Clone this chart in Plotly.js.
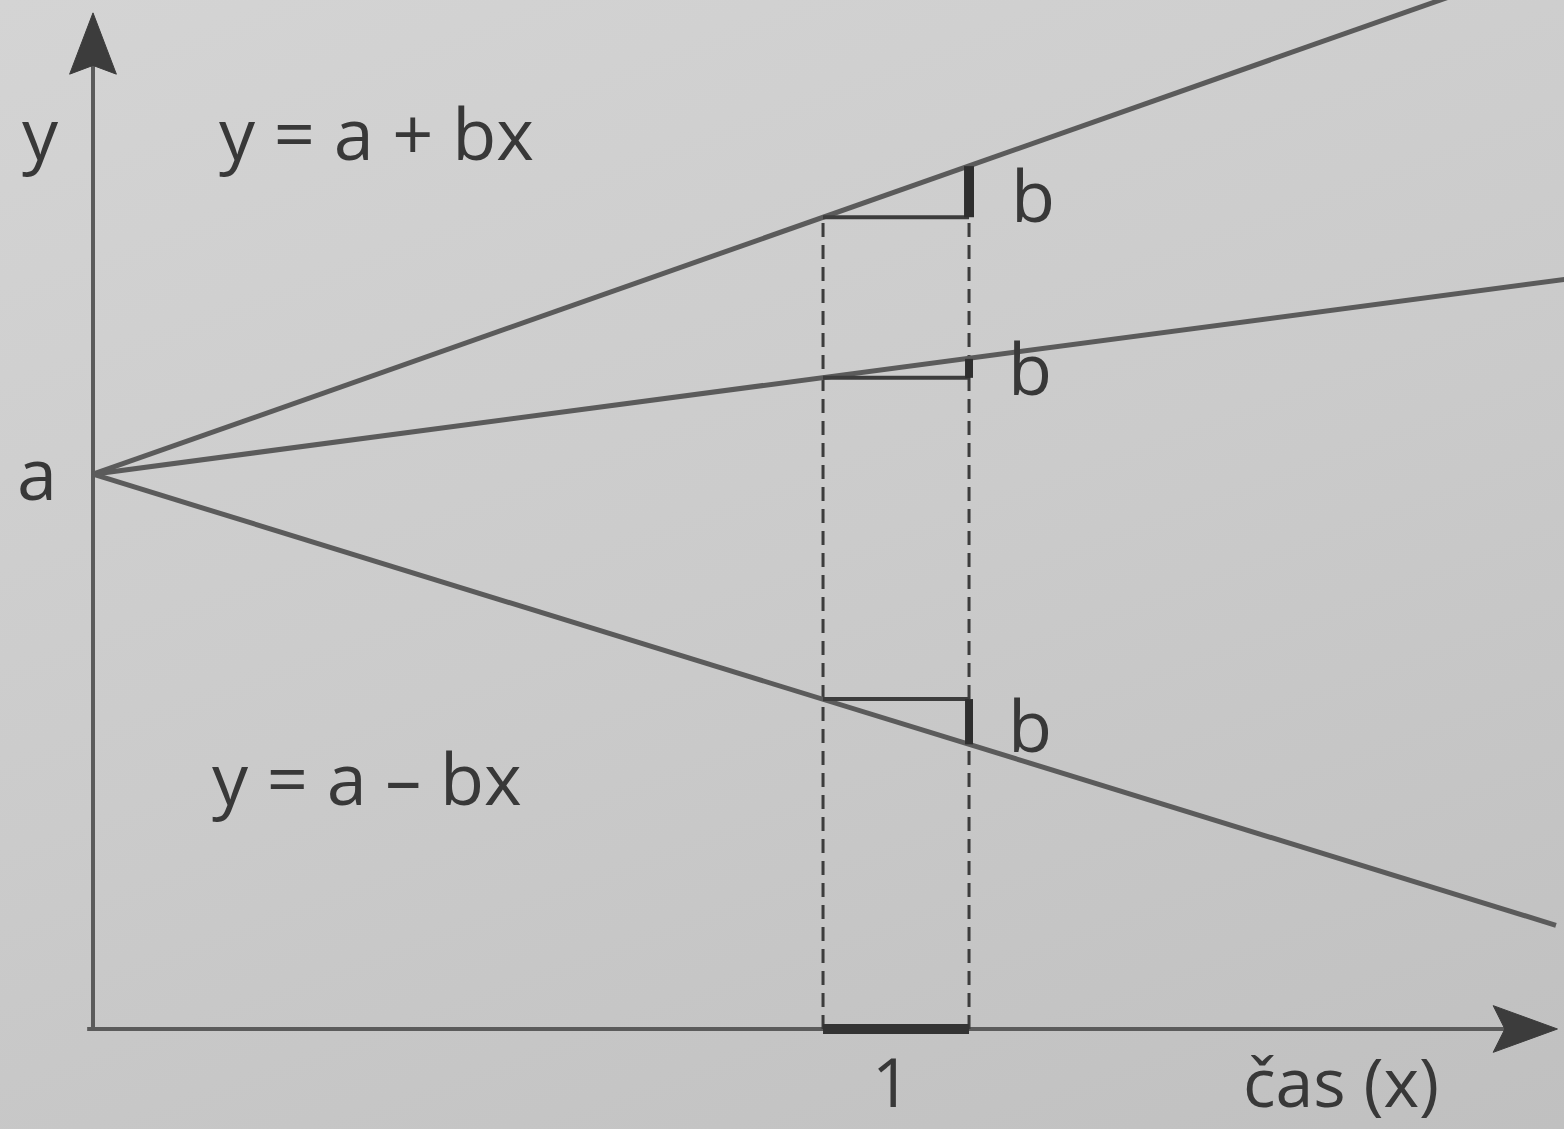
<!DOCTYPE html>
<html><head><meta charset="utf-8">
<script src="https://cdn.plot.ly/plotly-3.0.1.min.js"></script>
<style>
html,body{margin:0;padding:0;background:#c9c9c9;overflow:hidden}
#chart{width:1564px;height:1129px;background:linear-gradient(160deg,#d4d4d4 0%,#cbcbcb 50%,#c0c0c0 100%);}
</style>
</head><body><div id="chart"></div>
<script>
// ---- data (x unit = the marked "1" step) ----
const lineX   = [0, 10.2];
const upperY  = [3.80, 7.39];
const middleY = [3.80, 5.15];
const lowerX  = [0, 10.02];
const lowerY  = [3.80, 0.71];
const stepX       = [5, 6];
const upperStep   = [5.56, 5.91];
const middleStep  = [4.46, 4.59];
const lowerStep   = [2.26, 1.95];
const xAxisEnd = 10.03;
const yAxisEnd = 6.96;
// ---- labels ----
const yAxisLabel = 'y';
const xAxisLabel = 'čas (x)';
const interceptLabel = 'a';
const slopeLabel = 'b';
const unitLabel = '1';
const eqUp = 'y = a + bx';
const eqDown = 'y = a – bx';

const LINE = '#5b5b5b', DARK = '#3c3c3c', TXT = '#383838';
const traces = [];
function seg(x, y, w, c, dash) {
  traces.push({type:'scatter', mode:'lines', x:x, y:y, hoverinfo:'skip', showlegend:false,
    line:{color:c, width:w, dash:dash||'solid'}});
}
// axes
seg([0, 0], [0, yAxisEnd - 0.3], 4, LINE);
seg([-0.04, xAxisEnd - 0.3], [0, 0], 4, LINE);
// arrowheads
const hl = 0.42, hw = 0.16, nt = 0.06;
traces.push({type:'scatter', mode:'lines', fill:'toself', fillcolor:DARK, hoverinfo:'skip', showlegend:false,
  line:{color:DARK, width:1},
  x:[0, hw, 0, -hw, 0], y:[yAxisEnd, yAxisEnd-hl, yAxisEnd-hl+nt, yAxisEnd-hl, yAxisEnd]});
traces.push({type:'scatter', mode:'lines', fill:'toself', fillcolor:DARK, hoverinfo:'skip', showlegend:false,
  line:{color:DARK, width:1},
  x:[xAxisEnd, xAxisEnd-hl-0.02, xAxisEnd-hl+nt, xAxisEnd-hl-0.02, xAxisEnd], y:[0, hw, 0, -hw, 0]});
// dashed verticals
seg([stepX[0], stepX[0]], [0, upperStep[0]], 3, DARK, '14px,8px');
seg([stepX[1], stepX[1]], [0, upperStep[0]], 3, DARK, '14px,8px');
// main lines
seg(lineX, upperY, 5, LINE);
seg(lineX, middleY, 5, LINE);
seg(lowerX, lowerY, 5, LINE);
// step triangles
[upperStep, middleStep, lowerStep].forEach(function(s, i){
  seg(stepX, [s[0], s[0]], 4, DARK);
  seg([stepX[1], stepX[1]], [s[0], s[1]], i === 0 ? 10 : 8, '#2e2e2e');
});
// unit segment on x axis
seg(stepX, [0, 0], 10, '#333333');

const F = {family:'"Open Sans", "Noto Sans", sans-serif', size:72, color:TXT};
const FB = {family:'"Open Sans", "Noto Sans", sans-serif', size:68, color:TXT};
function ann(t, x, y, f) {
  return {text:t, x:x, y:y, xref:'x', yref:'y', showarrow:false, xanchor:'center', yanchor:'middle',
    borderpad:0, font:f || F};
}
const annotations = [
  ann(yAxisLabel, -0.363, 6.144),
  ann(eqUp, 1.945, 6.144),
  ann(interceptLabel, -0.384, 3.815),
  ann(slopeLabel, 6.44, 5.719),
  ann(slopeLabel, 6.42, 4.534),
  ann(slopeLabel, 6.42, 2.089),
  ann(eqDown, 1.88, 1.726),
  ann(unitLabel, 5.47, -0.352, FB),
  ann(xAxisLabel, 8.55, -0.352, FB)
];

const layout = {
  width:1564, height:1129,
  margin:{l:0, r:0, t:0, b:0, pad:0},
  paper_bgcolor:'rgba(0,0,0,0)', plot_bgcolor:'rgba(0,0,0,0)',
  xaxis:{range:[-0.637, 10.075], visible:false, fixedrange:true},
  yaxis:{range:[-0.685, 7.048], visible:false, fixedrange:true},
  annotations:annotations,
  showlegend:false
};
Plotly.newPlot('chart', traces, layout, {staticPlot:true, displayModeBar:false});
</script>
</body></html>
